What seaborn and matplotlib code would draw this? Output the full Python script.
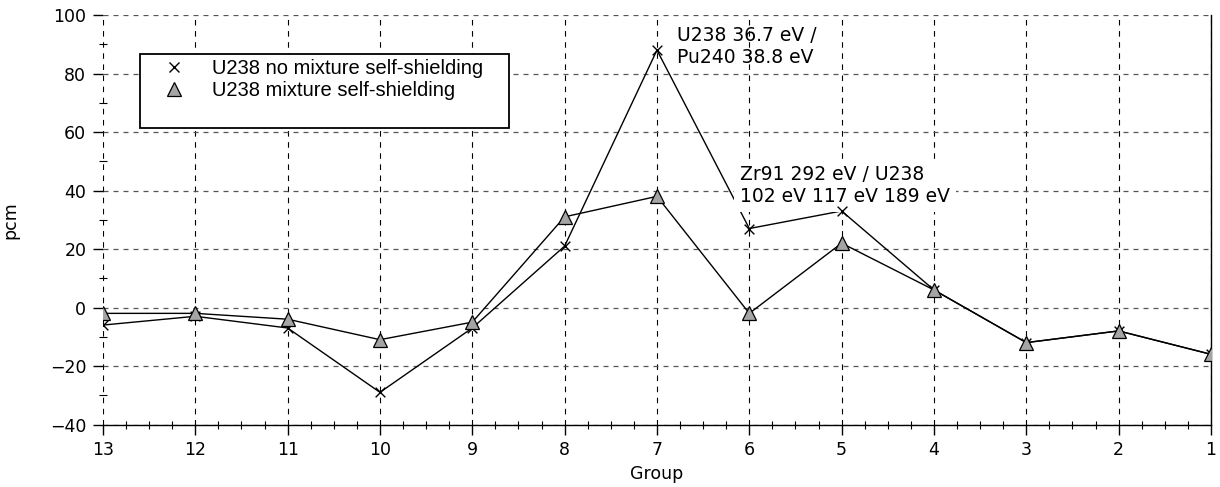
import matplotlib
matplotlib.use("Agg")
import matplotlib.pyplot as plt
from matplotlib.lines import Line2D
from matplotlib.ticker import MultipleLocator
import pandas as pd
import seaborn as sns

groups = [13, 12, 11, 10, 9, 8, 7, 6, 5, 4, 3, 2, 1]
no_mixture = [-6, -3, -7, -29, -7, 21, 88, 27, 33, 6, -12, -8, -16]
mixture = [-2, -2, -4, -11, -5, 31, 38, -2, 22, 6, -12, -8, -16]

label_no_mix = "U238 no mixture self-shielding"
label_mix = "U238 mixture self-shielding"
note_peak = "U238 36.7 eV /\nPu240 38.8 eV"
note_dip = "Zr91 292 eV / U238\n102 eV 117 eV 189 eV"

frame = pd.DataFrame({"group": groups, "no_mixture": no_mixture, "mixture": mixture})

sns.set_style("white")
plt.rcParams["font.family"] = ["DejaVu Sans"]
plt.rcParams["text.color"] = "black"
plt.rcParams["axes.labelcolor"] = "black"
plt.rcParams["xtick.color"] = "black"
plt.rcParams["ytick.color"] = "black"

fig, ax = plt.subplots(figsize=(12.2, 4.87), dpi=100)
fig.subplots_adjust(left=0.0844, right=0.9926, top=0.9692, bottom=0.1283)

# line of the unshielded case sits under the annotation box, its markers above it
sns.lineplot(data=frame, x="group", y="no_mixture", color="black", linewidth=1.0,
             ax=ax, zorder=3)
sns.scatterplot(data=frame, x="group", y="no_mixture", color="black", marker="x",
                s=49, linewidth=1.0, ax=ax, zorder=6)
sns.lineplot(data=frame, x="group", y="mixture", color="black", linewidth=1.0,
             marker="^", markersize=9.5, markerfacecolor="#a4a4a4", markeredgecolor="black",
             markeredgewidth=0.9, ax=ax, zorder=7)

ax.set_xlim(13, 1)
ax.set_ylim(-40, 100)
ax.xaxis.set_major_locator(MultipleLocator(1))
ax.xaxis.set_minor_locator(MultipleLocator(0.25))
ax.yaxis.set_major_locator(MultipleLocator(20))
ax.yaxis.set_minor_locator(MultipleLocator(10))

ax.grid(which="major", axis="x", color="black", linestyle=(0, (5, 5)), linewidth=0.8)
ax.grid(which="major", axis="y", color="#555555", linestyle=(0, (4, 4)), linewidth=0.9)
ax.set_axisbelow(True)

for side in ["top", "left"]:
    ax.spines[side].set_visible(False)
for side in ["bottom", "right"]:
    ax.spines[side].set_color("black")
    ax.spines[side].set_linewidth(1.0)

ax.tick_params(which="major", direction="out", length=7, width=1.0,
               labelsize=12.5, pad=5)
ax.tick_params(which="minor", direction="inout", length=6, width=0.8)
ax.tick_params(axis="x", which="both", bottom=True)
ax.tick_params(axis="y", which="both", left=True)

ax.set_xlabel("Group", fontsize=12.5, labelpad=4)
ax.set_ylabel("pcm", fontsize=12.5, labelpad=22)

# baseline of a multi-line text is the baseline of its last line
ax.text(6.783, 83.5, note_peak, fontsize=13.5, va="baseline", ha="left",
        linespacing=1.2, zorder=5)
ax.text(6.10, 36.1, note_dip, fontsize=13.5, va="baseline", ha="left",
        linespacing=1.2, zorder=5,
        bbox=dict(facecolor="white", edgecolor="none", pad=4))

handles = [
    Line2D([], [], linestyle="none", marker="x", markersize=7, color="black", markeredgewidth=1.0),
    Line2D([], [], linestyle="none", marker="^", markersize=9.5, markerfacecolor="#a4a4a4",
           markeredgecolor="black", markeredgewidth=0.9),
    Line2D([], [], linestyle="none"),
]
legend = ax.legend(handles, [label_no_mix, label_mix, " "], loc="upper left",
                   bbox_to_anchor=(0.0334, 0.7241, 0.333, 0.1807), mode="expand",
                   borderaxespad=0, fancybox=False, framealpha=1, edgecolor="black",
                   borderpad=0.25, labelspacing=0.165, handlelength=2.9,
                   handletextpad=0.45, prop={"family": "Liberation Sans", "size": 14.5})
legend.get_frame().set_linewidth(1.3)
legend.set_zorder(8)

fig.savefig("out.png", dpi=100)
